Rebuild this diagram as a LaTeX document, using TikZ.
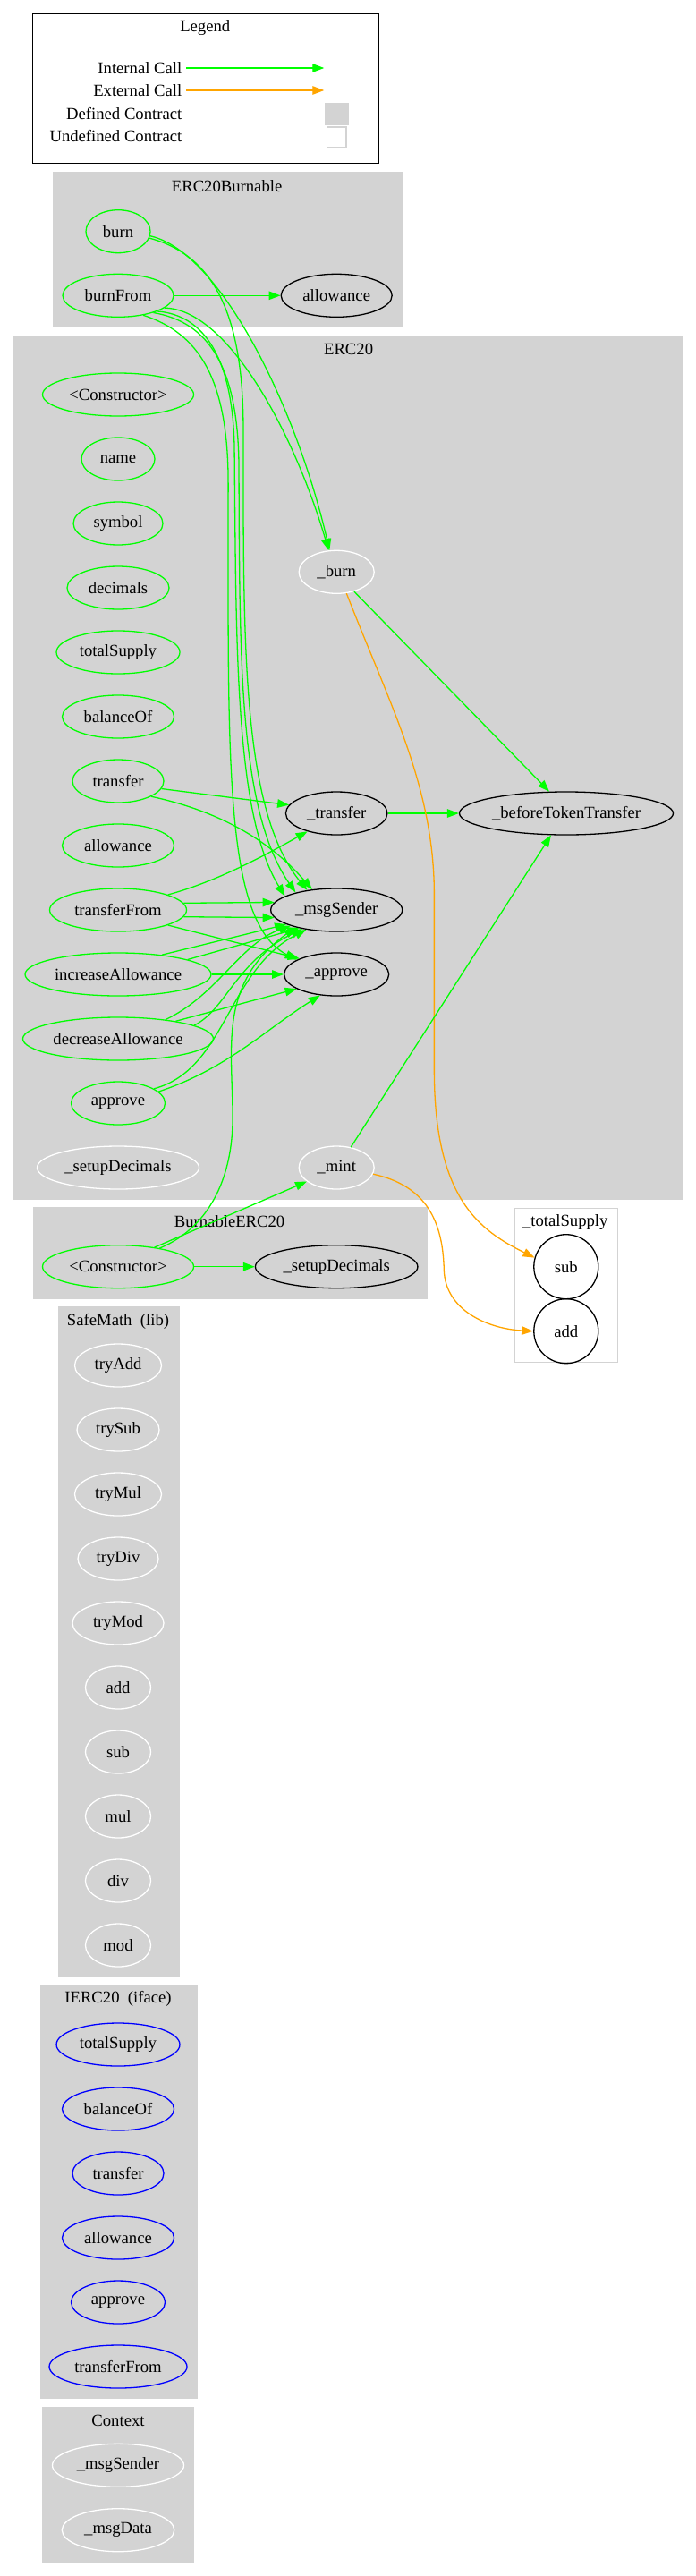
\documentclass[tikz,border=0pt]{standalone}
\usepackage{fontspec}
\setmainfont{Liberation Serif}
\usetikzlibrary{arrows.meta,shapes.geometric}
\definecolor{callgreen}{RGB}{0,255,0}
\definecolor{callorange}{RGB}{255,165,0}
\definecolor{clustergray}{RGB}{211,211,211}
\definecolor{ifaceblue}{RGB}{0,0,255}
\begin{document}
\begin{tikzpicture}[x=0.9926pt,y=-1pt,
 every node/.style={font=\fontsize{18.67}{22}\selectfont},
 fnbase/.style={ellipse,line width=1.3pt,inner sep=0pt,minimum height=48},
 fn/.style={fnbase,draw=callgreen},
 ext/.style={fnbase,draw=black},
 priv/.style={fnbase,draw=white},
 ifn/.style={fnbase,draw=ifaceblue},
 cluster/.style={fill=clustergray,draw=clustergray,line width=1.3pt},
 ttl/.style={inner sep=0pt},
 icall/.style={draw=callgreen,line width=1.3pt,-{Triangle[length=13pt,width=9.5pt]}},
 ecall/.style={draw=callorange,line width=1.3pt,-{Triangle[length=13pt,width=9.5pt]}}]
 \path[use as bounding box,fill=white] (0,0) rectangle (783.8,2879);

 % clusters
 \draw[line width=1.3pt,fill=white] (36.5,15.7) rectangle (426.5,182.7);
 \path[cluster] (60,192.7) rectangle (452.5,365.7);
 \path[cluster] (15,375.3) rectangle (768.5,1340.3);
 \path[cluster] (37.5,1350) rectangle (481,1451);
 \draw[draw=clustergray,line width=1.3pt,fill=white] (580,1350.7) rectangle (695.5,1522.3);
 \path[cluster] (66,1460.7) rectangle (202,2209.7);
 \path[cluster] (45.5,2219.5) rectangle (221.5,2680.4);
 \path[cluster] (48.5,2690.3) rectangle (218,2863.1);

 \node[ttl] (tLegend) at (231,31) {Legend};
 \node[ttl] (tBurnable) at (255.5,208.5) {ERC20Burnable};
 \node[ttl] (tErc) at (392.5,390) {ERC20};
 \node[ttl] (tBErc) at (258.5,1365) {BurnableERC20};
 \node[ttl] (tTotal) at (636.5,1366) {\_totalSupply};
 \node[ttl] (tMath) at (133,1477) {SafeMath~~(lib)};
 \node[ttl] (tIface) at (133,2234) {IERC20~~(iface)};
 \node[ttl] (tCtx) at (133,2705) {Context};

 % legend
 \node[ttl,anchor=east] (lgInt) at (205,76) {Internal Call};
 \node[ttl,anchor=east] (lgExt) at (205,101) {External Call};
 \node[ttl,anchor=east] (lgDef) at (205,127) {Defined Contract};
 \node[ttl,anchor=east] (lgUndef) at (205,152.5) {Undefined Contract};
 \coordinate (lgA) at (210,76);
 \coordinate (lgB) at (365,76);
 \coordinate (lgC) at (210,101);
 \coordinate (lgD) at (365,101);
 \draw[icall] (lgA) -- (lgB);
 \draw[ecall] (lgC) -- (lgD);
 \fill[clustergray] (366,115) rectangle (392.5,139.7);
 \draw[clustergray,line width=1.3pt,fill=white] (368,142) rectangle (390,164.3);

 % ERC20Burnable
 \node[fn,minimum width=72] (burn) at (133,258.7) {burn};
 \node[fn,minimum width=124] (bFrom) at (133,330.3) {burnFrom};
 \node[ext,minimum width=124] (bAllow) at (379,330.3) {allowance};

 % ERC20
 \foreach \nm/\txt/\w [count=\k from 0] in {eCtor/{<Constructor>}/169,eName/name/82,
   eSym/symbol/100,eDec/decimals/114,eTot/totalSupply/138,eBal/balanceOf/125,
   transfer/transfer/102,eAllow/allowance/125,tFrom/transferFrom/153,
   incA/increaseAllowance/208,decA/decreaseAllowance/213,approve/approve/105}
   \node[fn,minimum width=\w] (\nm) at (133,{441+72*\k}) {\txt};
 \node[priv,minimum width=181] (eSetup) at (133,1305) {\_setupDecimals};
 \node[priv,minimum width=84] (uburn) at (379,639.3) {\_burn};
 \node[ext,minimum width=113.5] (xfer) at (379,909) {\_transfer};
 \node[ext,minimum width=147] (msgS) at (379,1017) {\_msgSender};
 \node[ext,minimum width=117] (appr) at (379,1089) {\_approve};
 \node[priv,minimum width=84] (mint) at (379,1305) {\_mint};
 \node[ext,minimum width=239] (btt) at (637.75,909) {\_beforeTokenTransfer};

 % BurnableERC20
 \node[fn,minimum width=169] (bCtor) at (133,1415.7) {<Constructor>};
 \node[ext,minimum width=181.5] (bSetup) at (379,1415.7) {\_setupDecimals};

 % _totalSupply
 \node[ext,circle,minimum size=72] (tsSub) at (637.5,1415.7) {sub};
 \node[ext,circle,minimum size=72] (tsAdd) at (637.5,1487.7) {add};

 % SafeMath
 \foreach \nm/\txt/\w [count=\k from 0] in {smTryAdd/tryAdd/97,smTrySub/trySub/92,
   smTryMul/tryMul/97,smTryDiv/tryDiv/90,smTryMod/tryMod/102,smAdd/add/73,
   smSub/sub/73,smMul/mul/73,smDiv/div/73,smMod/mod/73}
   \node[priv,minimum width=\w] (\nm) at (133,{1526+72*\k}) {\txt};

 % IERC20
 \foreach \nm/\txt/\w [count=\k from 0] in {iTot/totalSupply/138,iBal/balanceOf/125,
   iXfer/transfer/102,iAllow/allowance/125,iAppr/approve/105,iXferFrom/transferFrom/154}
   \node[ifn,minimum width=\w] (\nm) at (133,{2285+72*\k}) {\txt};

 % Context
 \node[priv,minimum width=147] (ctxSender) at (133,2755.3) {\_msgSender};
 \node[priv,minimum width=125.5] (ctxData) at (133,2827.7) {\_msgData};

 % calls out of ERC20Burnable
 \draw[icall] (burn.352) .. controls (250,282) and (335,460) .. (uburn.108);
 \draw[icall] (burn.348) .. controls (240,285) and (274,350) .. (274,480)
   .. controls (274,720) and (272,905) .. (msgS.146);
 \draw[icall] (bFrom) -- (bAllow);
 \draw[icall] (bFrom.345) .. controls (255,345) and (330,480) .. (uburn.110);
 \draw[icall] (bFrom.338) .. controls (230,352) and (262,400) .. (264,500)
   .. controls (266,720) and (264,910) .. (msgS.165);
 \draw[icall] (bFrom.334) .. controls (235,360) and (268,410) .. (269,520)
   .. controls (270,730) and (268,905) .. (msgS.157);
 \draw[icall] (bFrom.322) .. controls (222,372) and (257,420) .. (257,540)
   .. controls (257,850) and (252,1030) .. (appr.160);

 % calls inside ERC20
 \draw[icall] (transfer.350) -- (xfer.170);
 \draw[icall] (transfer.335) .. controls (240,905) and (300,935) .. (msgS.140);
 \draw[icall] (tFrom.17) .. controls (245,985) and (300,955) .. (xfer.212);
 \draw[icall] (tFrom.6) -- (msgS.173);
 \draw[icall] (tFrom.354) -- (msgS.187);
 \draw[icall] (tFrom.343) -- (appr.157);
 \draw[icall] (incA.24) -- (msgS.196);
 \draw[icall] (incA.12) -- (msgS.206);
 \draw[icall] (incA) -- (appr);
 \draw[icall] (decA.22) .. controls (245,1112) and (270,1055) .. (msgS.199);
 \draw[icall] (decA.10) .. controls (255,1128) and (265,1075) .. (msgS.209);
 \draw[icall] (decA.17) -- (appr.200);
 \draw[icall] (approve.22) .. controls (255,1195) and (255,1085) .. (msgS.213);
 \draw[icall] (approve.16) .. controls (255,1195) and (300,1150) .. (appr.232);
 \draw[icall] (xfer) -- (btt);
 \draw[icall] (uburn.312) -- (btt.128);
 \draw[ecall] (uburn.295) .. controls (440,790) and (489,880) .. (489,1000)
   -- (489,1200) .. controls (490,1340) and (540,1375) .. (tsSub.164);
 \draw[icall] (mint.55) -- (btt.235);
 \draw[ecall] (mint.350) .. controls (480,1325) and (499,1365) .. (500,1420)
   .. controls (502,1465) and (550,1485) .. (tsAdd.180);

 % calls out of BurnableERC20
 \draw[icall] (bCtor) -- (bSetup);
 \draw[icall] (bCtor.28) -- (mint.205);
 \draw[icall] (bCtor.24) .. controls (240,1370) and (262,1310) .. (262,1250)
   .. controls (262,1170) and (245,1100) .. (msgS.203);
\end{tikzpicture}
\end{document}
